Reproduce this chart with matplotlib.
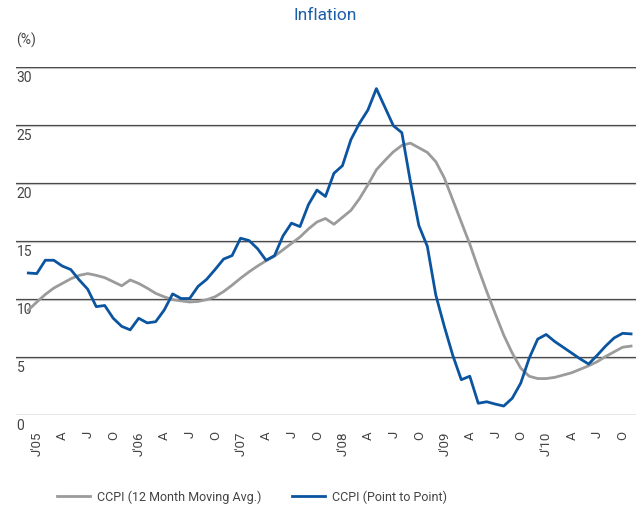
import matplotlib
matplotlib.use("Agg")
import matplotlib.pyplot as plt
import matplotlib.patheffects as pe
from matplotlib.transforms import ScaledTranslation

plt.rcParams['font.family'] = ['Roboto', 'DejaVu Sans']

# monthly values, Jan 2005 .. Dec 2010
ccpi_avg = [9.0, 9.7, 10.35, 10.9, 11.3, 11.7, 12.0, 12.15, 12.0, 11.8, 11.45, 11.1,
            11.6, 11.3, 10.9, 10.45, 10.15, 9.9, 9.8, 9.7, 9.75, 9.9, 10.15, 10.6,
            11.15, 11.75, 12.3, 12.8, 13.25, 13.65, 14.2, 14.75, 15.3, 16.0, 16.6, 16.9,
            16.4, 17.0, 17.6, 18.6, 19.8, 21.1, 21.9, 22.65, 23.2, 23.4, 23.0, 22.6,
            21.8, 20.4, 18.5, 16.6, 14.7, 12.6, 10.6, 8.7, 6.85, 5.3, 4.0, 3.3,
            3.1, 3.1, 3.2, 3.4, 3.6, 3.9, 4.2, 4.55, 5.0, 5.4, 5.8, 5.9]
ccpi_p2p = [12.2, 12.15, 13.3, 13.3, 12.8, 12.5, 11.6, 10.8, 9.3, 9.4, 8.3, 7.6,
            7.3, 8.3, 7.9, 8.0, 9.0, 10.4, 10.0, 10.0, 11.05, 11.65, 12.5, 13.4,
            13.7, 15.2, 15.0, 14.3, 13.3, 13.7, 15.4, 16.5, 16.2, 18.1, 19.35, 18.8,
            20.8, 21.45, 23.7, 25.1, 26.25, 28.1, 26.5, 24.9, 24.3, 20.1, 16.3, 14.5,
            10.3, 7.6, 5.1, 3.0, 3.3, 0.97, 1.1, 0.9, 0.73, 1.4, 2.7, 4.85,
            6.5, 6.9, 6.3, 5.8, 5.3, 4.8, 4.35, 5.1, 5.9, 6.6, 7.0, 6.95]
months = list(range(len(ccpi_avg)))
tick_pos = list(range(0, 72, 3))
tick_lab = ["J'05", "A", "J", "O", "J'06", "A", "J", "O", "J'07", "A", "J", "O",
            "J'08", "A", "J", "O", "J'09", "A", "J", "O", "J'10", "A", "J", "O"]
y_ticks = [0, 5, 10, 15, 20, 25, 30]

fig = plt.figure(figsize=(6.4, 5.12), dpi=100)
ax = fig.add_axes([0.025, 0.1904, 0.969, 0.6796])

grid_fx = [pe.SimpleLineShadow(offset=(0, -1.0), shadow_color='#d0d0d0', alpha=1), pe.Normal()]
for v in y_ticks:
    ax.axhline(v, color='#4a4a4a', lw=0.9, zorder=1, path_effects=grid_fx)

ax.plot(months, ccpi_avg, color='#9b9b9b', lw=2.0, zorder=3,
        label='CCPI (12 Month Moving Avg.)')
ax.plot(months, ccpi_p2p, color='#0b55a0', lw=2.0, zorder=4,
        label='CCPI (Point to Point)')

ax.set_xlim(-1.45, 71.6)
ax.set_ylim(0, 30)
for s in ax.spines.values():
    s.set_visible(False)

ax.set_yticks(y_ticks)
ax.set_yticklabels([str(v) for v in y_ticks])
ax.tick_params(axis='y', length=0, pad=0, labelsize=10, labelcolor='#444444')
for lab in ax.get_yticklabels():
    lab.set_horizontalalignment('left')
    lab.set_verticalalignment('center')
    lab.set_transform(lab.get_transform() + ScaledTranslation(0.005, -0.11, fig.dpi_scale_trans))

ax.set_xticks(tick_pos)
ax.set_xticklabels(tick_lab, rotation=90, va='top', ha='center')
ax.tick_params(axis='x', length=0, pad=12, labelsize=9.5, labelcolor='#444444')
for lab in ax.get_xticklabels():
    lab.set_transform(lab.get_transform() + ScaledTranslation(0.09, 0, fig.dpi_scale_trans))

fig.text(0.508, 0.970, 'Inflation', color='#1d5ea8', fontsize=12.5, ha='center', va='center')
fig.text(0.025, 0.921, '(%)', color='#444444', fontsize=10, ha='left', va='center')

fig.legend(loc='center left', bbox_to_anchor=(57 / 640, 1 - 497 / 512), ncol=2, frameon=False,
           fontsize=9, handlelength=2.65, handletextpad=0.56, columnspacing=2.4, borderpad=0,
           borderaxespad=0, labelcolor='#444444')

fig.savefig('out.png', dpi=100)
